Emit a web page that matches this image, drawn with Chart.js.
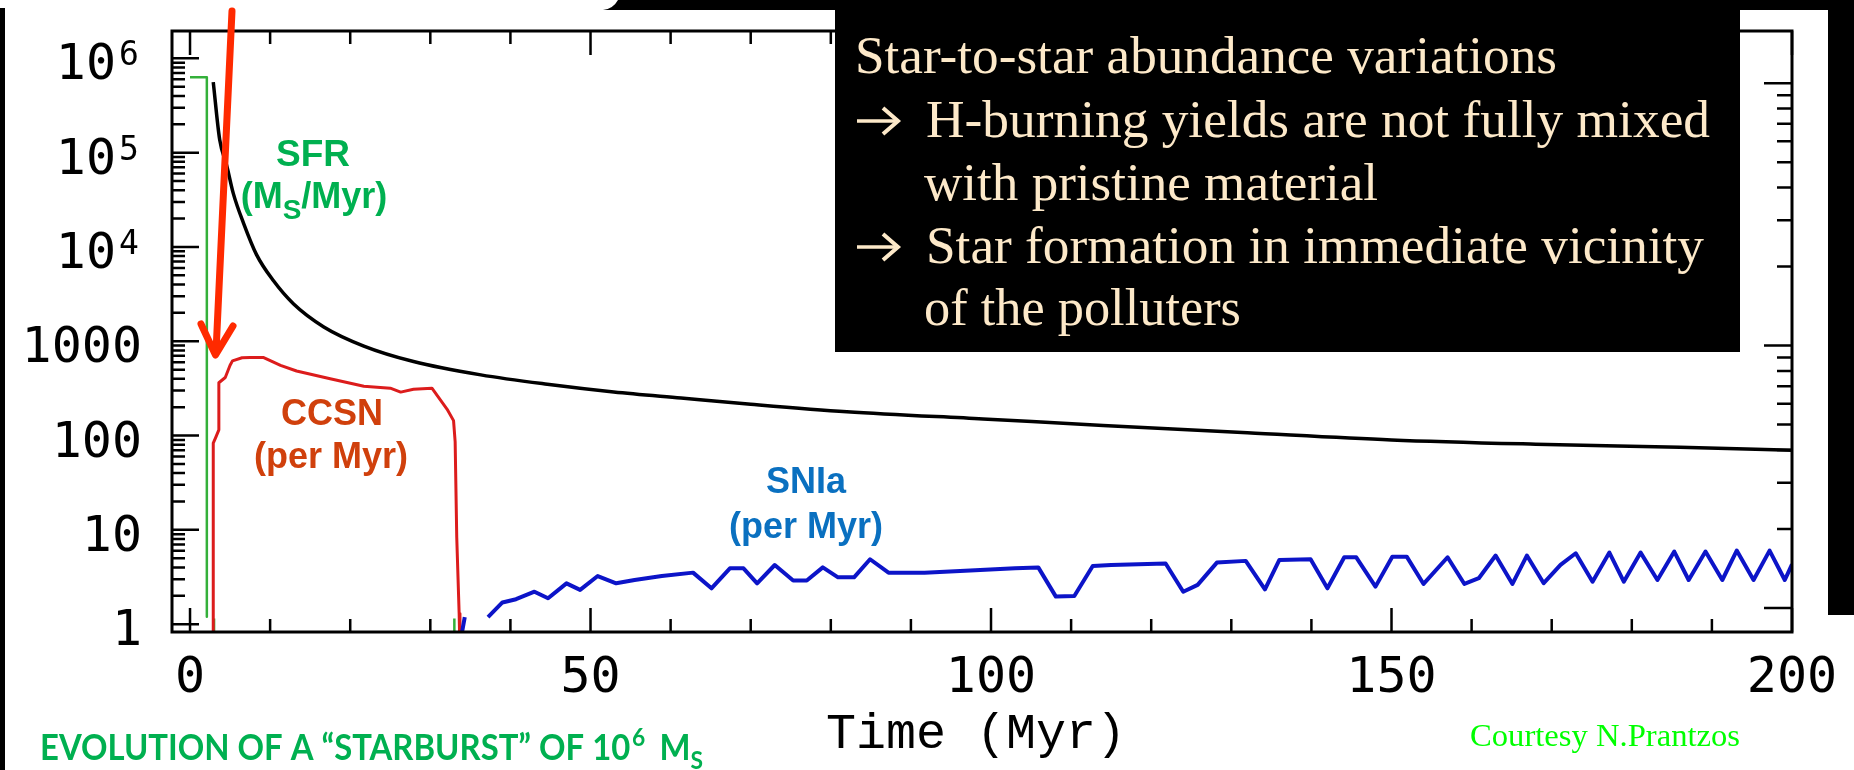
<!DOCTYPE html>
<html>
<head>
<meta charset="utf-8">
<title>Starburst evolution</title>
<script src="https://cdn.jsdelivr.net/npm/chart.js@4.4.1/dist/chart.umd.min.js"></script>
<style>
  html, body { margin: 0; padding: 0; background: #fff; }
  #wrap { position: relative; width: 1854px; height: 770px; overflow: hidden; }
</style>
</head>
<body>
<div id="wrap"><canvas id="myChart" width="1854" height="770"></canvas></div>
<script>
// star formation rate (Msun/Myr), a short burst then off
const sfrTime = [0, 2.1, 2.1, 2.6, 3.0, 3.0, 20, 33.0, 33.0];
const sfrRate = [6.3e5, 6.3e5, 1.2, null, 0.5, 1.15, null, 0.5, 1.15];

// black curve
const massTime = [2.9, 3.7, 4.6, 5.4, 6.7, 8.3, 10.4, 12.9, 16.7, 21.7, 27.9, 36.3, 44.6, 52.9, 61.3, 70, 82, 99, 114, 132, 150, 168, 186, 200];
const massValue = [5.6e5, 1.38e5, 7.2e4, 3.7e4, 1.77e4, 8.3e3, 4.4e3, 2.5e3, 1420, 890, 610, 440, 350, 290, 250, 215, 179, 150, 128, 107, 90, 81, 75, 70];

// core collapse supernovae per Myr
const ccsnTime = [2.9, 2.9, 3.2, 3.6, 3.6, 4.4, 5.0, 5.3, 6.5, 7.5, 9.2, 11.3, 13.3, 17.5, 21.7, 25.0, 26.3, 27.9, 30.2, 32.1, 32.9, 33.1, 33.3, 33.6, 33.7];
const ccsnRate = [0.5, 83, 95, 115, 363, 413, 556, 620, 668, 671, 671, 556, 484, 400, 333, 318, 289, 310, 318, 190, 144, 86, 8.3, 1.3, 0.5];

// type Ia supernovae per Myr
const sniaTime = [33.5, 34.3, 35.8, 37.2, 39.0, 40.7, 43.0, 44.7, 47.0, 48.7, 50.9, 53.2, 55.5, 58.9, 62.8, 65.1, 67.4, 69.1, 70.8, 73.0, 75.3, 77.0, 79.0, 80.9, 82.9, 84.9, 87.2, 91.7, 97.4, 103.0, 105.9, 108.1, 110.4, 112.7, 115.0, 121.8, 124.0, 125.8, 128.2, 131.8, 134.2, 136.0, 139.9, 142.0, 144.1, 145.6, 148.0, 150.1, 151.9, 154.0, 157.0, 159.1, 160.9, 163.0, 165.1, 166.9, 169.0, 171.1, 173.0, 175.1, 177.2, 179.0, 181.1, 183.2, 185.3, 187.1, 189.2, 191.3, 193.1, 195.2, 197.2, 199.1, 200];
const sniaRate = [0.5, 1.19, null, 1.19, 1.7, 1.84, 2.21, 1.88, 2.71, 2.31, 3.24, 2.71, 2.94, 3.24, 3.52, 2.40, 3.91, 3.91, 2.71, 4.24, 2.90, 2.90, 4.0, 3.14, 3.14, 4.88, 3.52, 3.52, 3.70, 3.91, 4.0, 1.96, 1.99, 4.14, 4.24, 4.4, 2.21, 2.61, 4.5, 4.69, 2.34, 4.8, 4.88, 2.40, 5.12, 5.12, 2.50, 5.2, 5.2, 2.67, 5.12, 2.67, 3.07, 5.34, 2.67, 5.34, 2.72, 4.25, 5.65, 2.82, 5.74, 2.82, 5.74, 2.94, 5.89, 2.94, 5.89, 2.94, 6.03, 2.94, 6.03, 2.94, 4.3];

// axis ticks
const xTickValues = [0, 50, 100, 150, 200];
const xTickLabels = ['0', '50', '100', '150', '200'];
const yTickValues = [1, 10, 100, 1000, 1e4, 1e5, 1e6];
const yTickBase = ['1', '10', '100', '1000', '10', '10', '10'];
const yTickExp = ['', '', '', '', '4', '5', '6'];
const rightTickValues = [1, 10, 100];

const boxLines = [
  'Star-to-star abundance variations',
  'H-burning yields are not fully mixed',
  'with pristine material',
  'Star formation in immediate vicinity',
  'of the polluters'
];

function points(ts, vs) {
  return ts.map((t, i) => ({ x: t, y: vs[i] }));
}

function fitText(ctx, text, x, y, width) {
  const w = ctx.measureText(text).width;
  ctx.save();
  ctx.translate(x, y);
  ctx.scale(width / w, 1);
  ctx.fillText(text, 0, 0);
  ctx.restore();
}

// small filled arrow like the slide's bullet
function bulletArrow(ctx, x, y) {
  ctx.save();
  ctx.strokeStyle = ctx.fillStyle;
  ctx.lineWidth = 3.5;
  ctx.lineCap = 'butt';
  ctx.beginPath();
  ctx.moveTo(x, y);
  ctx.lineTo(x + 38, y);
  ctx.stroke();
  ctx.lineWidth = 4;
  ctx.lineJoin = 'miter';
  ctx.beginPath();
  ctx.moveTo(x + 26, y - 13);
  ctx.lineTo(x + 41, y);
  ctx.lineTo(x + 26, y + 13);
  ctx.stroke();
  ctx.restore();
}

const background = {
  id: 'background',
  beforeDraw(chart) {
    const c = chart.ctx;
    c.save();
    c.fillStyle = '#fff';
    c.fillRect(0, 0, chart.width, chart.height);
    c.restore();
  }
};

const decorations = {
  id: 'decorations',
  afterDraw(chart) {
    const c = chart.ctx;
    const a = chart.chartArea;
    const xs = chart.scales.x, ys = chart.scales.y, y2 = chart.scales.y2;
    c.save();

    // frame
    c.strokeStyle = '#000';
    c.lineWidth = 3;
    c.strokeRect(a.left, a.top, a.right - a.left, a.bottom - a.top);

    // inward ticks on all sides
    c.lineWidth = 2.5;
    c.beginPath();
    for (let t = 0; t <= 200; t += 10) {
      const px = xs.getPixelForValue(t);
      const len = t % 50 === 0 ? 24 : 13;
      c.moveTo(px, a.bottom); c.lineTo(px, a.bottom - len);
      c.moveTo(px, a.top); c.lineTo(px, a.top + len);
    }
    for (let k = 0; k <= 6; k++) {
      for (let d = 1; d <= 9; d++) {
        const v = d * Math.pow(10, k);
        if (v > ys.max) continue;
        const py = ys.getPixelForValue(v);
        const len = d === 1 ? 27 : 13;
        c.moveTo(a.left, py); c.lineTo(a.left + len, py);
      }
    }
    for (let k = 0; k <= 2; k++) {
      for (let d = 1; d <= 9; d++) {
        const v = d * Math.pow(10, k);
        if (v > y2.max) continue;
        const py = y2.getPixelForValue(v);
        const len = rightTickValues.includes(v) ? 28 : 15;
        c.moveTo(a.right, py); c.lineTo(a.right - len, py);
      }
    }
    c.stroke();

    // tick labels
    c.fillStyle = '#000';
    c.font = '50px "DejaVu Sans Mono"';
    c.textAlign = 'center';
    c.textBaseline = 'alphabetic';
    xTickValues.forEach((v, i) => {
      c.fillText(xTickLabels[i], xs.getPixelForValue(v), 692);
    });
    yTickValues.forEach((v, i) => {
      const py = ys.getPixelForValue(v);
      if (yTickExp[i]) {
        c.font = '50px "DejaVu Sans Mono"';
        c.textAlign = 'right';
        c.fillText(yTickBase[i], 116, py + 21);
        c.font = '33px "DejaVu Sans Mono"';
        c.textAlign = 'left';
        c.fillText(yTickExp[i], 119, py + 7);
      } else {
        c.font = '50px "DejaVu Sans Mono"';
        c.textAlign = 'right';
        c.fillText(yTickBase[i], 142, py + 21);
      }
    });

    // axis title
    c.font = '50px "Liberation Mono"';
    c.textAlign = 'left';
    c.fillText('Time (Myr)', 826, 748);

    // curve labels
    c.textAlign = 'center';
    c.font = 'bold 37px "Liberation Sans"';
    c.fillStyle = '#00b050';
    c.fillText('SFR', 313, 166);
    c.font = 'bold 36px "Liberation Sans"';
    const p1 = '(M', p2 = '/Myr)';
    const w1 = c.measureText(p1).width, w2 = c.measureText(p2).width;
    c.font = 'bold 28px "Liberation Sans"';
    const ws = c.measureText('S').width;
    let sx = 314 - (w1 + ws + w2) / 2;
    c.textAlign = 'left';
    c.font = 'bold 36px "Liberation Sans"';
    c.fillText(p1, sx, 208);
    c.font = 'bold 28px "Liberation Sans"';
    c.fillText('S', sx + w1, 219);
    c.font = 'bold 36px "Liberation Sans"';
    c.fillText(p2, sx + w1 + ws, 208);

    c.textAlign = 'center';
    c.fillStyle = '#d0400c';
    c.fillText('CCSN', 332, 425);
    c.fillText('(per Myr)', 331, 468);
    c.fillStyle = '#0a70c0';
    c.fillText('SNIa', 806, 493);
    c.fillText('(per Myr)', 806, 538);

    // black slide shapes around the plot
    c.fillStyle = '#000';
    c.fillRect(0, 8, 5, 762);
    c.beginPath();
    c.moveTo(603, 10);
    c.quadraticCurveTo(613, 9, 618, 0);
    c.lineTo(1854, 0);
    c.lineTo(1854, 10);
    c.closePath();
    c.fill();
    c.fillRect(1828, 0, 26, 615);
    c.fillRect(835, 0, 905, 352);

    // text box
    c.fillStyle = '#fde9c9';
    c.textAlign = 'left';
    c.font = '52px "Liberation Serif"';
    fitText(c, boxLines[0], 855, 73, 702);
    fitText(c, boxLines[1], 926, 137, 784);
    fitText(c, boxLines[2], 924, 200, 454);
    fitText(c, boxLines[3], 926, 263, 778);
    fitText(c, boxLines[4], 924, 325, 317);
    bulletArrow(c, 857, 121);
    bulletArrow(c, 857, 247);

    // red arrow
    c.strokeStyle = '#ff2a00';
    c.lineWidth = 7;
    c.lineCap = 'round';
    c.lineJoin = 'round';
    c.beginPath();
    c.moveTo(232, 11);
    c.lineTo(216, 352);
    c.stroke();
    c.beginPath();
    c.moveTo(201, 324);
    c.lineTo(215.5, 355);
    c.lineTo(233, 326);
    c.stroke();

    // footer texts
    c.fillStyle = '#00b050';
    c.font = 'bold 36px Lato';
    const main = 'EVOLUTION OF A \u201CSTARBURST\u201D OF 10';
    const wm = c.measureText(main).width;
    c.font = 'bold 25px Lato';
    const wsup = c.measureText('6').width;
    c.font = 'bold 36px Lato';
    const wM = c.measureText('  M').width;
    c.font = 'bold 25px Lato';
    const wsub = c.measureText('S').width;
    const total = wm + wsup + wM + wsub;
    c.save();
    c.translate(40, 760);
    c.scale(663 / total, 1);
    c.font = 'bold 36px Lato';
    c.fillText(main, 0, 0);
    c.font = 'bold 25px Lato';
    c.fillText('6', wm + 2, -14);
    c.font = 'bold 36px Lato';
    c.fillText('  M', wm + wsup, 0);
    c.font = 'bold 25px Lato';
    c.fillText('S', wm + wsup + wM, 9);
    c.restore();

    c.fillStyle = '#00ff00';
    c.font = '32px "Liberation Serif"';
    fitText(c, 'Courtesy N.Prantzos', 1470, 746, 270);

    c.restore();
  }
};

const ctx = document.getElementById('myChart').getContext('2d');
const chart = new Chart(ctx, {
  type: 'line',
  data: {
    datasets: [
      { label: 'SNIa', data: points(sniaTime, sniaRate), borderColor: '#0c14c8', borderWidth: 4, order: 1 },
      { label: 'CCSN', data: points(ccsnTime, ccsnRate), borderColor: '#dc1c1c', borderWidth: 3, order: 2 },
      { label: 'SFR', data: points(sfrTime, sfrRate), borderColor: '#34b03a', borderWidth: 2.5, order: 3 },
      { label: 'mass', data: points(massTime, massValue), borderColor: '#000', borderWidth: 3.5, cubicInterpolationMode: 'monotone', order: 4 }
    ]
  },
  options: {
    responsive: false,
    animation: false,
    events: [],
    spanGaps: false,
    elements: {
      point: { radius: 0 },
      line: { tension: 0, borderJoinStyle: 'round', borderCapStyle: 'butt', fill: false }
    },
    layout: { padding: { left: 172, right: 62, top: 31, bottom: 138 } },
    plugins: { legend: { display: false }, tooltip: { enabled: false } },
    scales: {
      x: { type: 'linear', min: -2.25, max: 200, bounds: 'data', display: false },
      y: { type: 'logarithmic', min: 0.826, max: 1.95e6, bounds: 'data', display: false },
      y2: { type: 'logarithmic', min: 0.81, max: 158, bounds: 'data', display: false }
    }
  },
  plugins: [background, decorations]
});
</script>
</body>
</html>
